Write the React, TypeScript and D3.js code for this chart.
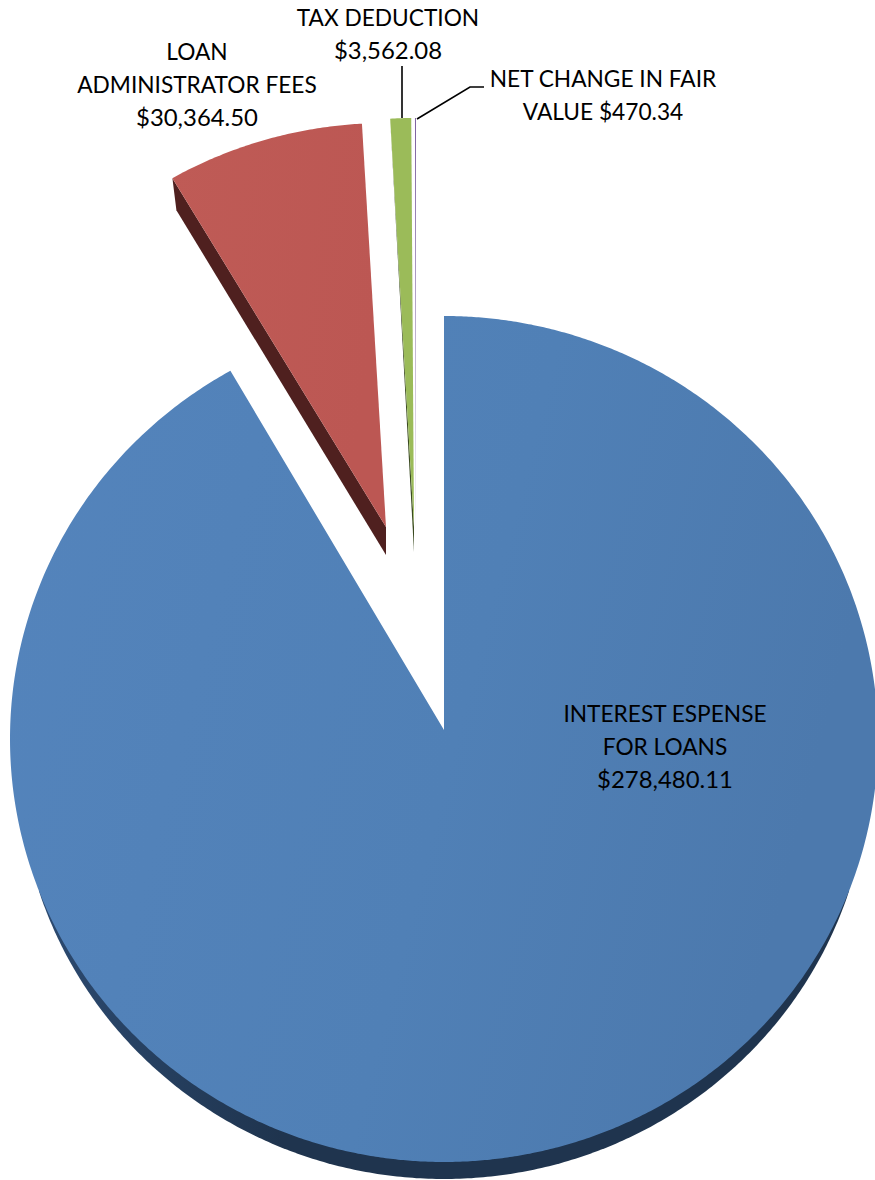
import React from "react";
import * as d3 from "d3";

const categories = ["INTEREST ESPENSE FOR LOANS", "LOAN ADMINISTRATOR FEES", "TAX DEDUCTION", "NET CHANGE IN FAIR VALUE"];
const values = [278480.11, 30364.5, 3562.08, 470.34];
const labelLines = [
  ["INTEREST ESPENSE", "FOR LOANS", "$278,480.11"],
  ["LOAN", "ADMINISTRATOR FEES", "$30,364.50"],
  ["TAX DEDUCTION", "$3,562.08"],
  ["NET CHANGE IN FAIR", "VALUE $470.34"],
];
const faceFills = ["url(#blueGrad)", "url(#redGrad)", "#9bbb59", "#8064a2"];
const wallFills = ["#1f344e", "#4f201f", "#3a4a20", "#3a2d4c"];

// Geometry of each exploded slice, in page pixels.
const sliceGeom = [
  { ax: 444, ay: 730, d: 9, rx: 434, ry: 423, depth: 0, rimDx: 0, rimDepth: 0 },
  { ax: 386, ay: 527, d: 22, rx: 434, ry: 426, depth: 28, rimDx: 4, rimDepth: 32 },
  { ax: 414, ay: 527, d: 24, rx: 430, ry: 433, depth: 25, rimDx: 0, rimDepth: 0 },
  { ax: 416, ay: 534, d: 4, rx: 160, ry: 420, depth: 0, rimDx: 0, rimDepth: 0 },
];
const labelPos = [
  { x: 665, y: 722 },
  { x: 197, y: 60 },
  { x: 388, y: 26 },
  { x: 603, y: 87 },
];
const lineGap = 33;
const TILT = 0.684;
const BASE_DEPTH = 17;
const BASE_START = 0.357;

const pie = d3.pie<number>().sort(null).startAngle(0).endAngle(2 * Math.PI);
const arcs = pie(values);
const line = d3.line<[number, number]>();

function unit(a: number): [number, number] {
  const sx = TILT * Math.sin(a);
  const cy = Math.cos(a);
  const n = Math.hypot(sx, cy);
  return [sx / n, cy / n];
}

function rim(i: number, a: number): [number, number] {
  const g = sliceGeom[i];
  const [s, c] = unit(a);
  return [g.ax + g.rx * s, g.ay + g.d - g.ry * c];
}

function facePath(i: number, a0: number, a1: number): string {
  const g = sliceGeom[i];
  const n = Math.max(4, Math.ceil((a1 - a0) * 120));
  const pts: [number, number][] = [[g.ax, g.ay]];
  d3.range(n + 1).forEach((k) => pts.push(rim(i, a0 + ((a1 - a0) * k) / n)));
  return line(pts) + "Z";
}

function wallPath(i: number, a0: number): string {
  const g = sliceGeom[i];
  const p = rim(i, a0);
  return line([
    [g.ax, g.ay],
    p,
    [p[0] + g.rimDx, p[1] + g.rimDepth],
    [g.ax, g.ay + g.depth],
  ]) + "Z";
}

// Visible side of the main slice: grows from nothing to full depth along the lower rim.
function basePath(): string {
  const g = sliceGeom[0];
  const cy = g.ay + g.d;
  const steps = d3.range(0, 361).map((k) => (Math.PI / 2) * (1 + k / 180));
  const pts = steps
    .map((t): [number, number] | null => {
      const nx = Math.sin(t);
      const ny = -Math.cos(t);
      if (ny < BASE_START) return null;
      const x = g.ax + g.rx * nx;
      const y = cy + g.ry * ny;
      const ext = (BASE_DEPTH * (ny - BASE_START)) / (1 - BASE_START);
      const nl = Math.hypot(nx, ny);
      return [x + (ext * nx) / nl, y + (ext * ny) / nl];
    })
    .filter((p): p is [number, number] => p !== null);
  return line(pts) + "Z";
}

export default function App() {
  const font = "Lato, Carlito, Calibri, sans-serif";
  return (
    <svg
      width={875}
      height={1180}
      viewBox="0 0 875 1180"
      style={{ position: "absolute", left: 0, top: 0, display: "block", background: "#fff" }}
    >
      <defs>
        <linearGradient id="blueGrad" x1="0" y1="0" x2="1" y2="0.25">
          <stop offset="0" stopColor="#5484bc" />
          <stop offset="0.6" stopColor="#5080b6" />
          <stop offset="1" stopColor="#4c79ad" />
        </linearGradient>
        <linearGradient id="redGrad" x1="0" y1="0" x2="1" y2="0.25">
          <stop offset="0" stopColor="#bf5b56" />
          <stop offset="1" stopColor="#bc5753" />
        </linearGradient>
        <linearGradient id="baseGrad" x1="0" y1="0" x2="1" y2="0">
          <stop offset="0" stopColor="#2c4a70" />
          <stop offset="0.3" stopColor="#1f344e" />
          <stop offset="1" stopColor="#1f344e" />
        </linearGradient>
      </defs>

      <path d={basePath()} fill="url(#baseGrad)" />

      {arcs.map((arc, i) => (
        <g key={categories[i]}>
          {sliceGeom[i].depth > 0 && <path d={wallPath(i, arc.startAngle)} fill={wallFills[i]} />}
          <path d={facePath(i, arc.startAngle, arc.endAngle)} fill={faceFills[i]} />
        </g>
      ))}

      <path d="M402,118V66" fill="none" stroke="#000" strokeWidth={1.6} />
      <path d="M417,119L470,87H484" fill="none" stroke="#000" strokeWidth={1.6} />

      {labelLines.map((lines, i) => (
        <text key={lines[0]} textAnchor="middle" fontFamily={font} fill="#000">
          {lines.map((t, k) => (
            <tspan
              key={t}
              x={labelPos[i].x}
              y={labelPos[i].y + k * lineGap}
              fontSize={t.startsWith("$") ? 23.9 : 22.7}
            >
              {t}
            </tspan>
          ))}
        </text>
      ))}
    </svg>
  );
}
